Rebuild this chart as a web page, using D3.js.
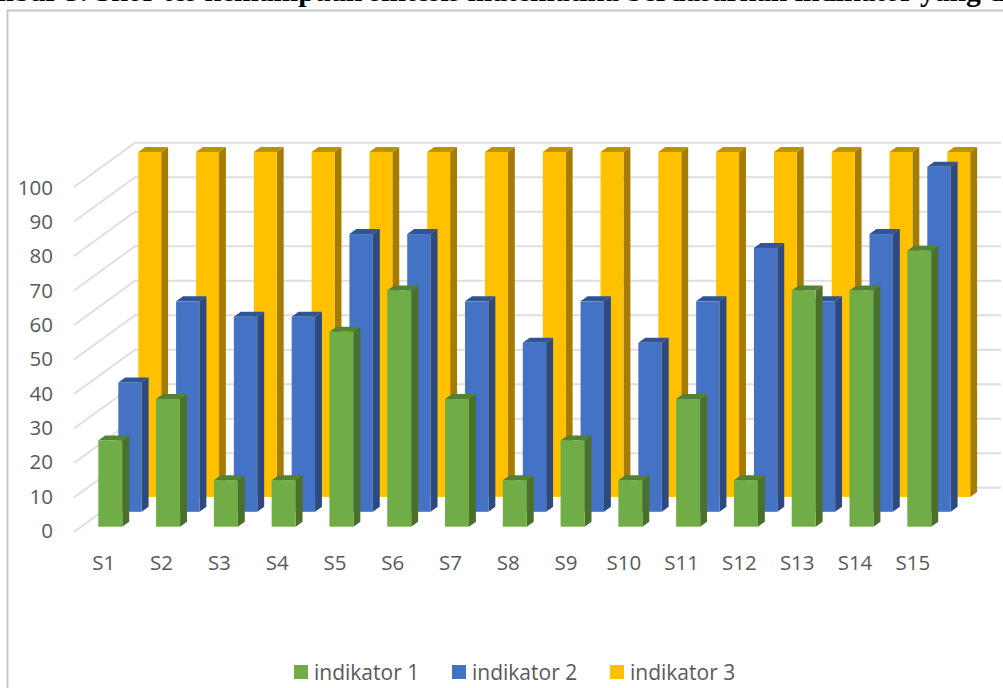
<!DOCTYPE html>
<html>
<head>
<meta charset="utf-8">
<script src="https://cdn.jsdelivr.net/npm/d3@7/dist/d3.min.js"></script>
<style>
html,body{margin:0;padding:0;background:#fff;overflow:hidden}
svg{display:block}
</style>
</head>
<body>
<div id="chart"></div>
<script>
// Student scores per indicator
const categories = ["S1","S2","S3","S4","S5","S6","S7","S8","S9","S10","S11","S12","S13","S14","S15"];
const indikator1 = [25,37,13.5,13.5,56.5,68.5,37,13.5,25,13.5,37,13.5,68.5,68.5,80];
const indikator2 = [37.5,61,56.5,56.5,80.5,80.5,61,49,61,49,61,76.5,61,80.5,100];
const indikator3 = [100,100,100,100,100,100,100,100,100,100,100,100,100,100,100];
const yTicks = [0,10,20,30,40,50,60,70,80,90,100];
const seriesNames = ["indikator 1","indikator 2","indikator 3"];
const titleText = "Gambar 3. Skor tes kemampuan sintesis matematika berdasarkan indikator yang di";

const width = 1003, height = 688;
const font = "'Open Sans','Noto Sans',sans-serif";
const textColor = "#595959";
const gridColor = "#dedede";

// Fill colours: front face, top face, side face
const palette = [
  {front:"#70ad47", top:"#548235", side:"#4a7029"},
  {front:"#4472c4", top:"#2f5597", side:"#2c4a80"},
  {front:"#ffc000", top:"#bf9000", side:"#a67c00"}
];

// Each row sits one step further back and reads slightly narrower
const rowDx = 20, rowDy = -14.9;
const barWidths = [24, 23.4, 22.9];
const sideDx = 6.9, sideDy = -5;
const floorFront = 526.7;

const x = d3.scalePoint().domain(categories).range([98.3, 907.3]);
const y = d3.scaleLinear().domain([0,100]).range([0,-345]);

const svg = d3.select("#chart").append("svg")
  .attr("width", width).attr("height", height);

svg.append("rect").attr("width", width).attr("height", height).attr("fill","#fff");

// Chart frame, running off the right and bottom of the page
svg.append("path")
  .attr("d", `M7.5,${height+4}V10.5H${width+4}`)
  .attr("fill","none").attr("stroke","#c4c4c4").attr("stroke-width",1.8);

// Heading, cut by the top of the page
svg.append("text")
  .attr("x", -48.5).attr("y", 0.8)
  .attr("font-family","'Liberation Serif',serif")
  .attr("font-weight","bold").attr("font-size",29.6)
  .attr("fill","#000")
  .text(titleText);

// Gridlines on the side wall and the back wall
const wallFrontX = 74, wallBackX = 135, wallRightX = 1001;
const wallFrontBase = 532, wallBackBase = 487.7;
const grid = svg.append("g").attr("fill","none").attr("stroke",gridColor).attr("stroke-width",1.9);
grid.selectAll("path").data(yTicks).join("path")
  .attr("d", d => `M${wallFrontX},${wallFrontBase + y(d)}L${wallBackX},${wallBackBase + y(d)}H${wallRightX}`);

// Rear row first so nearer bars overlap it
const rows = [indikator3, indikator2, indikator1];
rows.forEach((values, r) => {
  const depth = 2 - r;
  const colors = palette[depth];
  const barW = barWidths[depth];
  const g = svg.append("g");
  const bars = g.selectAll("g").data(categories.map((c,i) => ({c, v: values[i]}))).join("g")
    .attr("transform", d => `translate(${x(d.c) + depth*rowDx},${floorFront + depth*rowDy})`);
  // side face
  bars.append("path").attr("fill", colors.side)
    .attr("d", d => `M${barW},0L${barW+sideDx},${sideDy}V${y(d.v)+sideDy}L${barW},${y(d.v)}Z`);
  // top face
  bars.append("path").attr("fill", colors.top)
    .attr("d", d => `M0,${y(d.v)}L${sideDx},${y(d.v)+sideDy}H${barW+sideDx}L${barW},${y(d.v)}Z`);
  // front face
  bars.append("rect").attr("fill", colors.front)
    .attr("x",0).attr("width",barW)
    .attr("y", d => y(d.v)).attr("height", d => -y(d.v));
});

// Value axis labels
svg.append("g").selectAll("text").data(yTicks).join("text")
  .attr("x", 53).attr("y", d => 530 + y(d)*0.995)
  .attr("text-anchor","end").attr("dominant-baseline","central")
  .attr("font-family",font).attr("font-size",20.5).attr("fill",textColor)
  .text(d => d);

// Category labels
svg.append("g").selectAll("text").data(categories).join("text")
  .attr("x", d => x(d) + 5.5).attr("y", 562)
  .attr("text-anchor","middle").attr("dominant-baseline","central")
  .attr("font-family",font).attr("font-size",20.5).attr("fill",textColor)
  .text(d => d);

// Legend
const legendX = d3.scaleOrdinal().domain(seriesNames).range([294,452,610]);
const legend = svg.append("g").selectAll("g").data(seriesNames).join("g")
  .attr("transform", d => `translate(${legendX(d)},665)`);
legend.append("rect").attr("width",14).attr("height",14)
  .attr("fill",(d,i) => palette[i].front);
legend.append("text").attr("x",20).attr("y",7)
  .attr("dominant-baseline","central")
  .attr("font-family",font).attr("font-size",21).attr("fill",textColor)
  .text(d => d);
</script>
</body>
</html>
